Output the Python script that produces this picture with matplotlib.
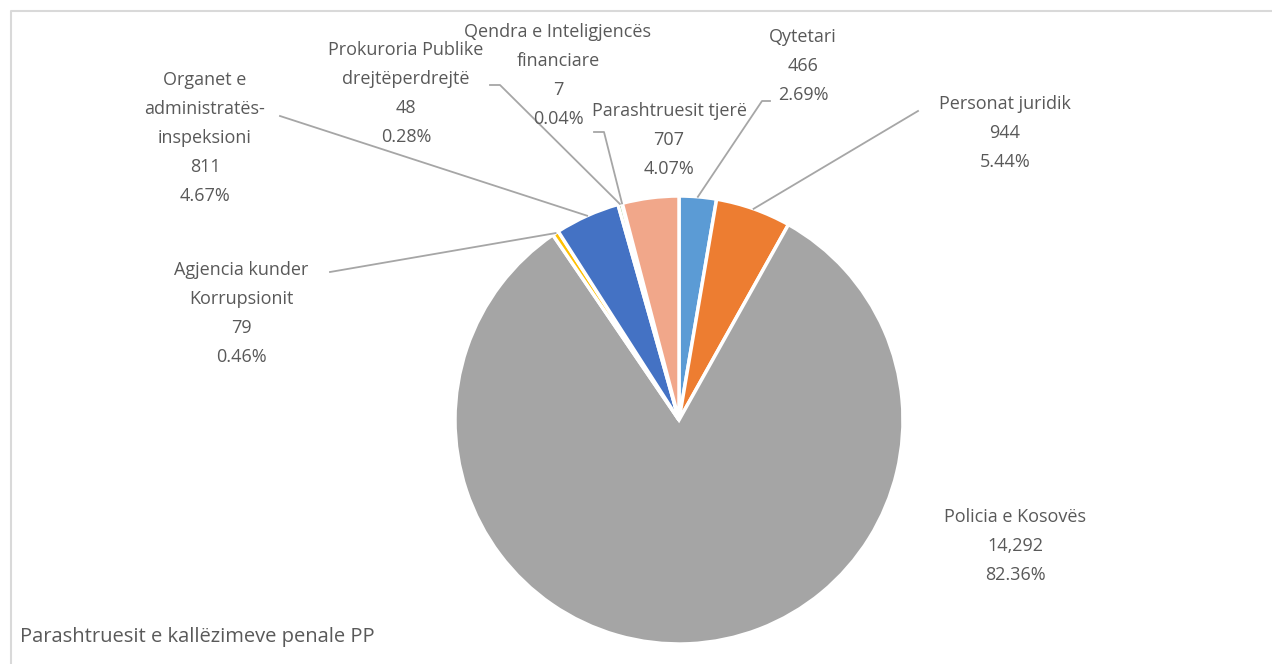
import numpy as np
import matplotlib.pyplot as plt

plt.rcParams['font.family'] = ['Open Sans', 'DejaVu Sans']

categories = ['Qytetari', 'Personat juridik', 'Policia e Kosovës',
              'Agjencia kunder\nKorrupsionit', 'Organet e\nadministratës-\ninspeksioni',
              'Prokuroria Publike\ndrejtëperdrejtë', 'Qendra e Inteligjencës\nfinanciare',
              'Parashtruesit tjerë']
values = [466, 944, 14292, 79, 811, 48, 7, 707]
percents = ['2.69%', '5.44%', '82.36%', '0.46%', '4.67%', '0.28%', '0.04%', '4.07%']
colors = ['#5B9BD5', '#ED7D31', '#A5A5A5', '#FFC000', '#4472C4', '#70AD47', '#264478', '#F1A78A']

# label layout: centre x and first-line y (pixels from top), leader line start or None
label_pos = [(803, 37), (1005, 104), (1015, 517), (241, 270), (205, 80),
             (406, 50), (558, 32), (669, 111)]
leader_start = [(770, 101), (918, 111), None, (330, 272), (280, 116),
                (490, 85), (594, 132), None]
stub = [8, 0, 0, 0, 0, 10, 10, 0]
line_step = 29

W, H = 1272, 664
fig = plt.figure(figsize=(W / 100, H / 100), dpi=100)
ax = fig.add_axes([0, 0, 1, 1])

cx, cy, r = 679, H - 420, 224
wedges, _ = ax.pie(values, colors=colors, startangle=90, counterclock=False,
                   center=(cx, cy), radius=r, frame=True,
                   wedgeprops=dict(edgecolor='white', linewidth=2.5))
ax.set_xlim(0, W)
ax.set_ylim(0, H)
ax.set_aspect('equal')
ax.axis('off')

for w, cat, v, p, pos, ls, st in zip(wedges, categories, values, percents,
                                     label_pos, leader_start, stub):
    lines = cat.split('\n') + [f"{v:,}", p]
    for i, line in enumerate(lines):
        ax.text(pos[0], H - (pos[1] + i * line_step), line, ha='center',
                va='center', fontsize=13, color='#595959', zorder=5)
    if ls is not None:
        mid = np.deg2rad((w.theta1 + w.theta2) / 2)
        ex, ey = cx + r * np.cos(mid), cy + r * np.sin(mid)
        sx, sy = ls[0], H - ls[1]
        direction = 1 if ex > sx else -1
        xs = [sx, sx + direction * st, ex]
        ys = [sy, sy, ey]
        ax.plot(xs, ys, color='#A6A6A6', linewidth=1.3, zorder=1)

ax.text(20, H - 637, 'Parashtruesit e kallëzimeve penale PP', fontsize=14.5,
        color='#595959', ha='left', va='center')

# chart border (top and left visible)
ax.plot([11, 11, W], [0, H - 11, H - 11], color='#D9D9D9', linewidth=1.5,
        clip_on=False)

fig.savefig('out.png', dpi=100)
